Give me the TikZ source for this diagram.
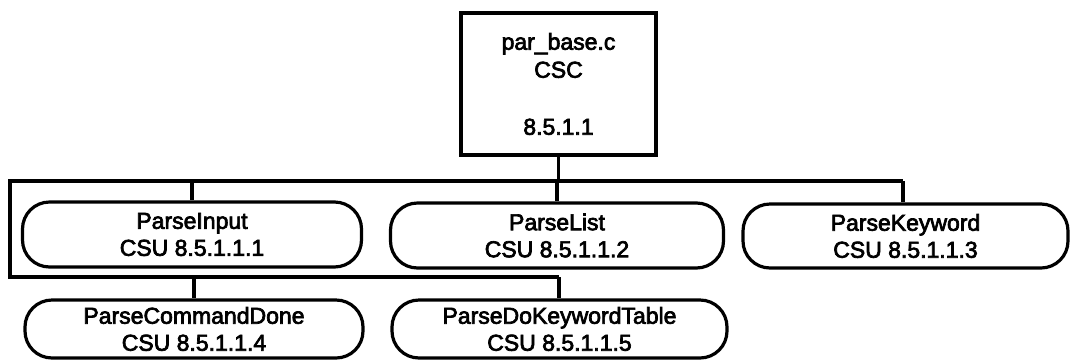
\documentclass[tikz,border=0pt]{standalone}
\usepackage{fontspec}
\setmainfont[FakeBold=3]{Liberation Sans}
\begin{document}
\begin{tikzpicture}[x=1pt,y=-1pt,
  line width=3.2pt,
  csc/.style={draw, rectangle, minimum width=195pt, minimum height=142pt, align=center, inner sep=0pt,
    font=\fontsize{23}{28}\selectfont},
  csu/.style={draw, rectangle, rounded corners=27pt, inner sep=0pt, align=center,
    font=\fontsize{23}{27}\selectfont},
  link/.style={line width=3.2pt}]
\useasboundingbox (0,0) rectangle (1071,360);
\node[csc] (top) at (558.5,84) {par\_base.c\\CSC\\[29pt]8.5.1.1};
\node[csu, minimum width=339pt, minimum height=65pt] (pi) at (192,234.5) {ParseInput\\CSU 8.5.1.1.1};
\node[csu, minimum width=333pt, minimum height=65pt] (pl) at (557,235.5) {ParseList\\CSU 8.5.1.1.2};
\node[csu, minimum width=325pt, minimum height=64pt] (pk) at (905.5,236) {ParseKeyword\\CSU 8.5.1.1.3};
\node[csu, minimum width=338pt, minimum height=58pt] (pc) at (194,329) {ParseCommandDone\\CSU 8.5.1.1.4};
\node[csu, minimum width=335pt, minimum height=58pt] (pd) at (559.5,329) {ParseDoKeywordTable\\CSU 8.5.1.1.5};
\coordinate (busL) at (10,181);
\coordinate (busR) at (903,181);
\coordinate (loopL) at (10,277);
\coordinate (loopR) at (559,277);
\draw[link] (busR) -- (busL) -- (loopL) -- (loopR);
\draw[link] (top.south) -- (top.south |- busL);
\draw[link] (pi.north |- busL) -- (pi.north);
\draw[link] (pl.north |- busL) -- (pl.north);
\draw[link] (busR) -- (busR |- pk.north);
\draw[link] (pc.north |- loopL) -- (pc.north);
\draw[link] (loopR) -- (loopR |- pd.north);
\end{tikzpicture}
\end{document}
